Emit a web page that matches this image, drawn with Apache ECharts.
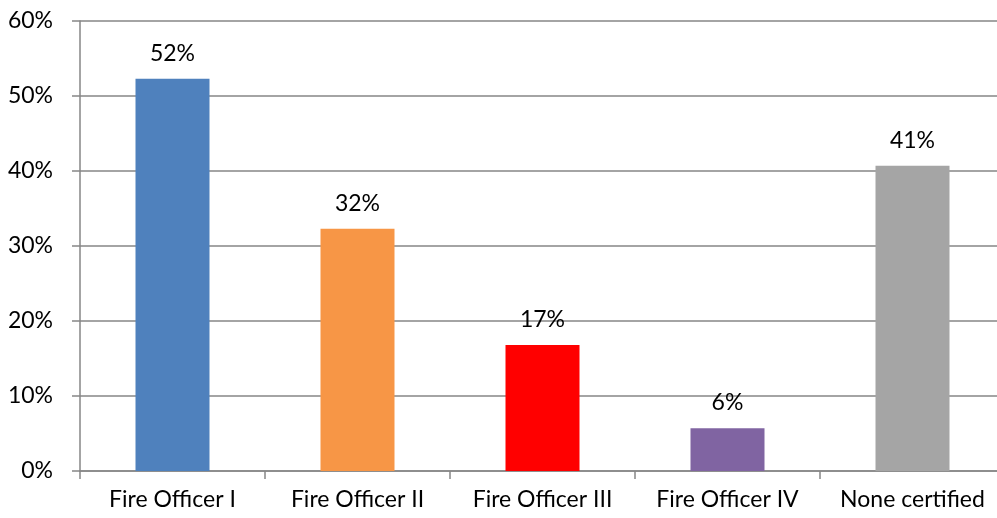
<!DOCTYPE html>
<html><head><meta charset="utf-8">
<script src="https://cdn.jsdelivr.net/npm/echarts@6/dist/echarts.min.js"></script>
<style>html,body{margin:0;padding:0;background:#fff}#c{width:997px;height:518px}</style>
</head><body><div id="c"></div>
<script>
const categories = ["Fire Officer I","Fire Officer II","Fire Officer III","Fire Officer IV","None certified"];
const values = [52.3, 32.3, 16.8, 5.7, 40.7];
const colors = ["#4F81BD","#F79646","#FF0000","#8064A2","#A5A5A5"];
const yTicks = [0,10,20,30,40,50,60];

const chart = echarts.init(document.getElementById('c'));
const font = 'Lato, "Open Sans", sans-serif';
chart.setOption({
  animation:false,
  grid:{left:80,right:-8,top:21,bottom:47,containLabel:false,outerBoundsMode:'none'},
  xAxis:{type:'category',data:categories,
    axisLine:{lineStyle:{color:'#868686',width:1.5}},
    axisTick:{show:true,interval:0,length:8,lineStyle:{color:'#868686',width:1.5}},
    axisLabel:{interval:0,hideOverlap:false,color:'#000',fontSize:23,fontFamily:font,margin:17}},
  yAxis:{type:'value',min:yTicks[0],max:yTicks[yTicks.length-1],interval:10,
    axisLine:{show:true,lineStyle:{color:'#868686',width:1.5}},
    axisTick:{show:true,length:8,lineStyle:{color:'#868686',width:1.5}},
    splitLine:{lineStyle:{color:'#868686',width:1.5}},
    axisLabel:{color:'#000',fontSize:23,fontFamily:font,margin:27,formatter:v=>v+'%'}},
  series:[{type:'bar',barWidth:'40%',
    data:values.map((v,i)=>({value:v,itemStyle:{color:colors[i]}})),
    label:{show:true,position:'top',distance:14,color:'#000',fontSize:23,fontFamily:font,
      formatter:p=>Math.round(p.value)+'%'}}]
});
</script></body></html>
